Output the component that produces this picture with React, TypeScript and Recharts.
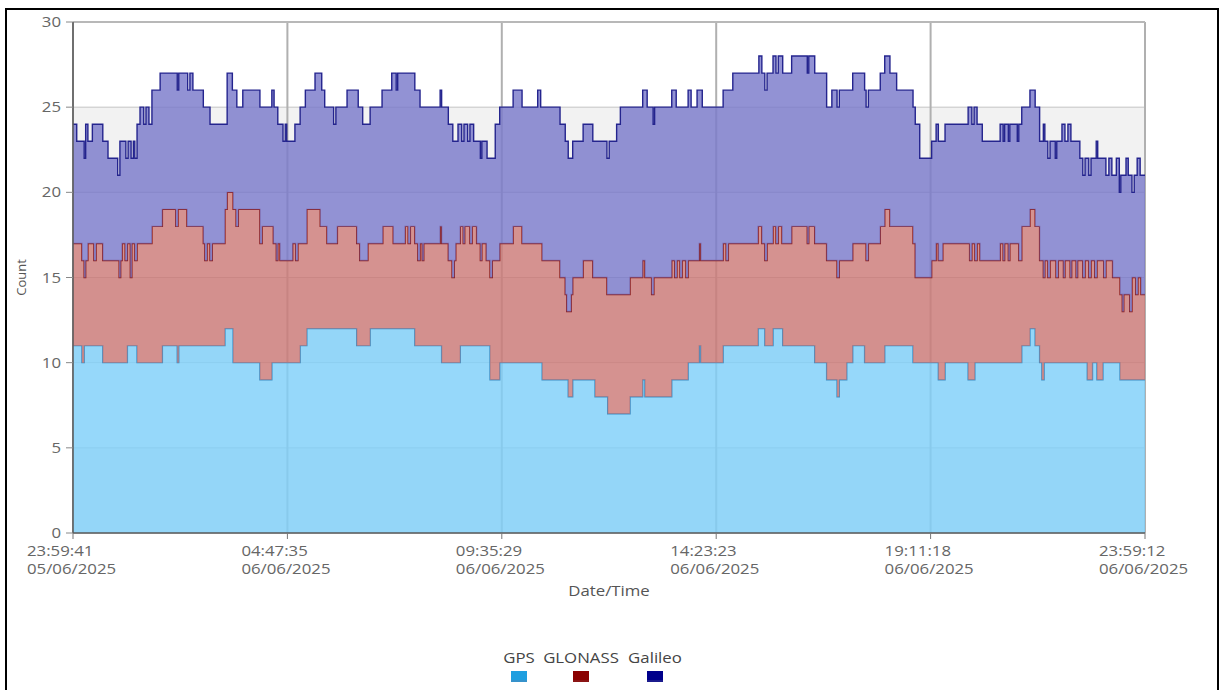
import React from 'react';
import { AreaChart, Area, XAxis, YAxis, CartesianGrid, ReferenceLine, Label } from 'recharts';

// Time axis: minutes after 23:59:41 05/06/2025 (span 23:59:31)
const END_MINUTE = 1439.5;
const xTickMinutes = [0, 287.9, 575.8, 863.7, 1151.6, 1439.5];
const xTickTimes = ['23:59:41', '04:47:35', '09:35:29', '14:23:23', '19:11:18', '23:59:12'];
const xTickDates = ['05/06/2025', '06/06/2025', '06/06/2025', '06/06/2025', '06/06/2025', '06/06/2025'];
const yTicks = [0, 5, 10, 15, 20, 25, 30];

const seriesNames = ['GPS', 'GLONASS', 'Galileo'];
const seriesFill = ['#7fcff9', '#cc7a77', '#7a7acb'];
const seriesStroke = ['#3f8ec4', '#8b1c1c', '#24248e'];
const legendSwatch = ['#1e9fe0', '#8b0000', '#00008b'];

// GPS satellite count: [minute, count] change points
const gpsSteps: [number, number][] = [
  [0, 11], [12, 10], [15, 11], [40, 10], [73, 11], [86, 10], [120, 11], [140, 10], [142, 11], [204, 12],
  [215, 10], [251, 9], [267, 10], [305, 11], [314, 12], [381, 11], [399, 12], [459, 11], [495, 10], [520, 11],
  [560, 9], [573, 10], [630, 9], [665, 8], [671, 9], [701, 8], [718, 7], [748, 8], [765, 9], [768, 8],
  [804, 9], [826, 10], [841, 11], [843, 10], [873, 11], [920, 12], [929, 11], [940, 12], [953, 11], [996, 10],
  [1012, 9], [1026, 8], [1029, 9], [1039, 10], [1047, 11], [1063, 10], [1090, 11], [1128, 10], [1162, 9], [1171, 10],
  [1202, 9], [1211, 10], [1274, 11], [1285, 12], [1292, 11], [1298, 10], [1301, 9], [1304, 10], [1362, 9], [1369, 10],
  [1375, 9], [1383, 10], [1406, 9],
];

// Stacked total GPS + GLONASS: [minute, count]
const glonassTopSteps: [number, number][] = [
  [0, 17], [12, 16], [15, 15], [17, 16], [20, 17], [28, 16], [31, 17], [40, 16], [62, 15], [64, 16],
  [66, 17], [70, 16], [73, 17], [77, 15], [79, 17], [83, 16], [86, 17], [106, 18], [120, 19], [138, 18],
  [141, 19], [153, 18], [175, 17], [177, 16], [180, 17], [184, 16], [187, 17], [204, 19], [207, 20], [215, 19],
  [219, 18], [222, 19], [251, 17], [254, 18], [269, 17], [273, 16], [275, 17], [278, 16], [295, 17], [299, 16],
  [302, 17], [314, 19], [332, 18], [341, 17], [355, 18], [381, 17], [385, 16], [396, 17], [416, 18], [430, 17],
  [446, 18], [450, 17], [453, 18], [459, 17], [463, 16], [466, 17], [469, 16], [471, 17], [493, 18], [495, 17],
  [504, 16], [509, 15], [512, 16], [514, 17], [520, 18], [524, 17], [526, 18], [533, 17], [536, 18], [542, 17],
  [547, 16], [549, 17], [555, 16], [560, 15], [563, 16], [573, 17], [591, 18], [603, 17], [630, 16], [654, 15],
  [661, 14], [663, 13], [669, 14], [671, 15], [685, 16], [698, 15], [717, 14], [748, 15], [765, 16], [768, 15],
  [777, 14], [780, 15], [804, 16], [808, 15], [811, 16], [815, 15], [818, 16], [823, 15], [826, 16], [841, 17],
  [843, 16], [873, 17], [877, 16], [880, 17], [920, 18], [925, 17], [929, 16], [932, 17], [940, 18], [944, 17],
  [947, 18], [952, 17], [965, 18], [986, 17], [988, 18], [996, 17], [1012, 16], [1026, 15], [1029, 16], [1047, 17],
  [1065, 16], [1068, 17], [1084, 18], [1090, 19], [1097, 18], [1128, 17], [1131, 15], [1153, 16], [1159, 17], [1162, 16],
  [1168, 17], [1204, 16], [1207, 17], [1211, 16], [1214, 17], [1218, 16], [1245, 17], [1249, 16], [1251, 17], [1256, 16],
  [1258, 17], [1270, 16], [1274, 18], [1285, 19], [1292, 18], [1298, 16], [1303, 15], [1305, 16], [1309, 15], [1312, 16],
  [1320, 15], [1323, 16], [1330, 15], [1332, 16], [1339, 15], [1341, 16], [1347, 15], [1349, 16], [1356, 15], [1359, 16],
  [1364, 15], [1367, 16], [1372, 15], [1375, 16], [1384, 15], [1387, 16], [1396, 15], [1406, 14], [1409, 13], [1411, 14],
  [1419, 13], [1422, 15], [1427, 14], [1430, 15], [1434, 14],
];

// Stacked total GPS + GLONASS + Galileo: [minute, count]
const galileoTopSteps: [number, number][] = [
  [0, 24], [5, 23], [15, 22], [17, 24], [20, 23], [26, 24], [40, 23], [47, 22], [60, 21], [63, 23],
  [71, 22], [74, 23], [78, 22], [81, 23], [83, 22], [86, 24], [90, 25], [95, 24], [98, 25], [102, 24],
  [106, 26], [117, 27], [140, 26], [142, 27], [154, 26], [157, 27], [161, 26], [175, 25], [184, 24], [207, 27],
  [214, 26], [220, 25], [228, 26], [251, 25], [267, 26], [270, 25], [275, 24], [282, 23], [285, 24], [287, 23],
  [298, 24], [305, 25], [312, 26], [325, 27], [334, 26], [338, 25], [350, 24], [353, 25], [368, 26], [383, 25],
  [389, 24], [399, 25], [415, 26], [428, 27], [434, 26], [436, 27], [459, 26], [466, 25], [493, 26], [495, 25],
  [504, 24], [510, 23], [517, 24], [522, 23], [525, 24], [530, 23], [533, 24], [538, 23], [547, 22], [549, 23],
  [556, 22], [567, 24], [573, 25], [591, 26], [603, 25], [624, 26], [628, 25], [654, 24], [661, 23], [665, 22],
  [671, 23], [685, 24], [698, 23], [717, 22], [720, 23], [730, 24], [735, 25], [765, 26], [771, 25], [779, 24],
  [781, 25], [804, 26], [810, 25], [826, 26], [830, 25], [838, 26], [845, 25], [873, 26], [886, 27], [921, 28],
  [925, 27], [929, 26], [932, 27], [940, 28], [944, 27], [947, 28], [953, 27], [965, 28], [986, 27], [988, 28],
  [996, 27], [1012, 25], [1019, 26], [1026, 25], [1029, 26], [1047, 27], [1063, 26], [1065, 25], [1068, 26], [1084, 27],
  [1090, 28], [1097, 27], [1106, 26], [1128, 25], [1131, 24], [1137, 22], [1153, 23], [1159, 24], [1162, 23], [1171, 24],
  [1202, 25], [1207, 24], [1210, 25], [1214, 24], [1221, 23], [1245, 24], [1249, 23], [1251, 24], [1256, 23], [1258, 24],
  [1268, 23], [1270, 24], [1274, 25], [1285, 26], [1292, 25], [1298, 23], [1303, 24], [1305, 23], [1309, 22], [1312, 23],
  [1319, 22], [1321, 23], [1328, 24], [1332, 23], [1336, 24], [1340, 23], [1352, 22], [1356, 21], [1359, 22], [1364, 21],
  [1367, 22], [1374, 23], [1376, 22], [1387, 21], [1391, 22], [1395, 21], [1401, 22], [1405, 20], [1407, 21], [1414, 22],
  [1417, 21], [1422, 20], [1425, 21], [1429, 22], [1433, 21],
];

function valueAt(steps: [number, number][], t: number): number {
  let v = steps[0][1];
  for (const [m, c] of steps) {
    if (m <= t) v = c;
    else break;
  }
  return v;
}

const allTimes = Array.from(
  new Set([...gpsSteps, ...glonassTopSteps, ...galileoTopSteps].map((s) => s[0]).concat([END_MINUTE]))
).sort((a, b) => a - b);

const data = allTimes.map((t) => {
  const gps = valueAt(gpsSteps, t);
  const mid = valueAt(glonassTopSteps, t);
  const top = valueAt(galileoTopSteps, t);
  return { t, GPS: gps, GLONASS: mid - gps, Galileo: top - mid };
});

const FONT = '"Open Sans", "Noto Sans", sans-serif';
const STRETCH = 1.2;

const XTick = (props: any) => {
  const { x, y, payload, index } = props;
  let i = xTickMinutes.indexOf(payload.value);
  if (i < 0) i = index;
  return (
    <g transform={`translate(${x - 46},${y})`}>
      <text transform={`scale(${STRETCH},1)`} fontSize={14} fill="#666" fontFamily={FONT}>
        <tspan x={0} y={15}>{xTickTimes[i]}</tspan>
        <tspan x={0} y={33}>{xTickDates[i]}</tspan>
      </text>
    </g>
  );
};

const YTick = (props: any) => {
  const { x, y, payload } = props;
  return (
    <text
      transform={`translate(${x},${y}) scale(${STRETCH},1)`}
      textAnchor="end"
      dy="0.36em"
      fontSize={14}
      fill="#666"
      fontFamily={FONT}
    >
      {payload.value}
    </text>
  );
};

const DateLabel = (props: any) => {
  const vb = props.viewBox || { x: 73, y: 533, width: 1072, height: 60 };
  return (
    <text
      transform={`translate(${vb.x + vb.width / 2},${vb.y + 63}) scale(${STRETCH},1)`}
      textAnchor="middle"
      fontSize={14}
      fill="#555"
      fontFamily={FONT}
    >
      Date/Time
    </text>
  );
};

const CountLabel = (props: any) => {
  const vb = props.viewBox || { x: 13, y: 22, width: 60, height: 511 };
  return (
    <text
      transform={`translate(${vb.x + 8},${vb.y + vb.height / 2}) rotate(-90)`}
      textAnchor="middle"
      dominantBaseline="central"
      fontSize={13}
      fill="#555"
      fontFamily={FONT}
    >
      Count
    </text>
  );
};

const legendCenters = [519, 581, 655];

export default function App() {
  return (
    <div
      style={{
        position: 'fixed',
        left: 0,
        top: 0,
        width: 1223,
        height: 690,
        overflow: 'hidden',
        background: '#ffffff',
      }}
    >
      <div
        style={{
          position: 'absolute',
          left: 4.5,
          top: 8.3,
          width: 1214.5,
          height: 700,
          border: '2.5px solid #000',
          boxSizing: 'border-box',
        }}
      />
      <div style={{ position: 'absolute', left: 0, top: 0 }}>
        <AreaChart width={1223} height={690} data={data} margin={{ top: 22, right: 78, bottom: 97, left: 13 }}>
          <CartesianGrid vertical={false} horizontalFill={['#ffffff', '#f2f2f2']} stroke="#c4c4c4" />
          <CartesianGrid horizontal={false} stroke="#b0b0b0" strokeWidth={2} />
          <XAxis
            type="number"
            dataKey="t"
            domain={[0, END_MINUTE]}
            ticks={xTickMinutes}
            interval={0}
            allowDataOverflow
            height={60}
            tickSize={6}
            tickMargin={2}
            tick={<XTick />}
            axisLine={{ stroke: '#5a5a5a', strokeWidth: 1.5 }}
            tickLine={{ stroke: '#777' }}
          >
            <Label content={<DateLabel />} />
          </XAxis>
          <YAxis
            type="number"
            domain={[0, 30]}
            ticks={yTicks}
            interval={0}
            allowDataOverflow
            width={60}
            tickSize={7}
            tickMargin={5}
            tick={<YTick />}
            axisLine={{ stroke: '#5a5a5a', strokeWidth: 1.5 }}
            tickLine={{ stroke: '#888' }}
          >
            <Label content={<CountLabel />} />
          </YAxis>
          {seriesNames.map((name, i) => (
            <Area
              key={name}
              type="stepAfter"
              dataKey={name}
              stackId="sats"
              stroke={seriesStroke[i]}
              strokeWidth={1.4}
              fill={seriesFill[i]}
              fillOpacity={0.82}
              dot={false}
              activeDot={false}
              isAnimationActive={false}
            />
          ))}
          <ReferenceLine y={30} stroke="#b8b8b8" strokeWidth={2} />
        </AreaChart>
      </div>
      <svg
        width={1223}
        height={690}
        style={{ position: 'absolute', left: 0, top: 0, pointerEvents: 'none' }}
      >
        {seriesNames.map((name, i) => (
          <g key={name}>
            <text
              transform={`translate(${legendCenters[i]},663) scale(${STRETCH},1)`}
              textAnchor="middle"
              fontSize={14}
              fill="#444"
              fontFamily={FONT}
            >
              {name}
            </text>
            <rect x={legendCenters[i] - 8} y={671} width={16} height={11} fill={legendSwatch[i]} />
            <line
              x1={legendCenters[i] - 8}
              x2={legendCenters[i] + 8}
              y1={681}
              y2={681}
              stroke={seriesStroke[i]}
              strokeWidth={1.5}
            />
          </g>
        ))}
      </svg>
    </div>
  );
}
